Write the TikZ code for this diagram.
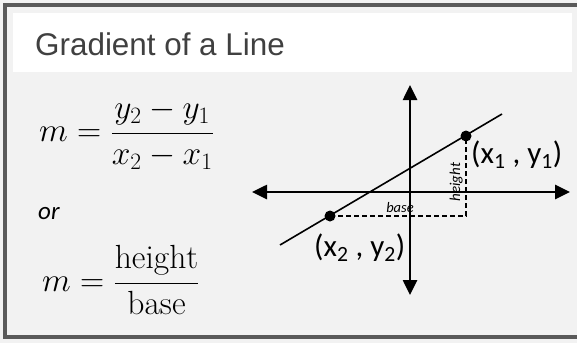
\RequirePackage{fix-cm}
\documentclass[tikz,border=0pt]{standalone}
\usepackage{fontspec}
\usepackage{amsmath}
\usetikzlibrary{arrows.meta}
\newfontfamily\arialf{Liberation Sans}
\newfontfamily\calib{Carlito}
\definecolor{framegray}{HTML}{5A5A5A}
\definecolor{bggray}{HTML}{F2F2F2}
\definecolor{titlegray}{HTML}{404040}
\tikzset{
  axisboth/.style={line width=2.6pt,{Triangle[length=15pt,width=14pt]}-{Triangle[length=15pt,width=14pt]}},
  gline/.style={line width=1.6pt},
  dashline/.style={line width=1.2pt,dash pattern=on 5pt off 3pt},
  dot/.style={circle,fill=black,inner sep=0pt,minimum size=11pt},
  mathtxt/.style={inner sep=0pt,font=\fontsize{33.5}{40}\selectfont},
  lbl/.style={inner sep=0pt,font=\calib\fontsize{31}{36}\selectfont},
}
\begin{document}
\begin{tikzpicture}[x=1pt,y=-1pt]
\useasboundingbox (0,0) rectangle (577,343);
% frame and background
\fill[bggray] (0,0) rectangle (577,343);
\draw[framegray,line width=4pt] (5,5) rectangle (579,337);
\fill[white] (13,13) rectangle (572,72);
% title
\node[anchor=base west,inner sep=0pt,text=titlegray,font=\arialf\fontsize{31.4}{36}\selectfont] (title) at (35,55) {Gradient of a Line};
% formulas
\node[mathtxt,anchor=base west] (f1) at (39,141.5) {$m=\dfrac{y_2-y_1}{x_2-x_1}$};
\node[anchor=base west,inner sep=0pt,font=\calib\itshape\fontsize{25}{28}\selectfont] (or) at (38,219) {or};
\node[mathtxt,anchor=base west] (f2) at (42,291.5) {$m=\dfrac{\mathrm{height}}{\mathrm{base}}$};
% axes
\coordinate (vt) at (410,85);
\coordinate (vb) at (410,295);
\coordinate (hl) at (252,192);
\coordinate (hr) at (570,192);
\draw[axisboth] (vb) -- (vt);
\draw[axisboth] (hl) -- (hr);
% line
\coordinate (la) at (280,245);
\coordinate (lb) at (502,114);
\draw[gline] (la) -- (lb);
% points
\node[dot] (p1) at (466,136) {};
\node[dot] (p2) at (330,216) {};
\coordinate (corner) at (466,216);
\draw[dashline] (p2.center) -- (corner) -- (p1.center);
\node[inner sep=0pt,anchor=south,font=\calib\itshape\fontsize{14.5}{16}\selectfont] (base) at (400,213) {base};
\node[inner sep=0pt,anchor=south,rotate=90,font=\calib\itshape\fontsize{15}{16}\selectfont] (height) at (463,182) {height};
\node[lbl,anchor=west] (l1) at (471,155) {(x\textsubscript{1} , y\textsubscript{1})};
\node[lbl,anchor=west] (l2) at (314,248) {(x\textsubscript{2} , y\textsubscript{2})};
\end{tikzpicture}
\end{document}
